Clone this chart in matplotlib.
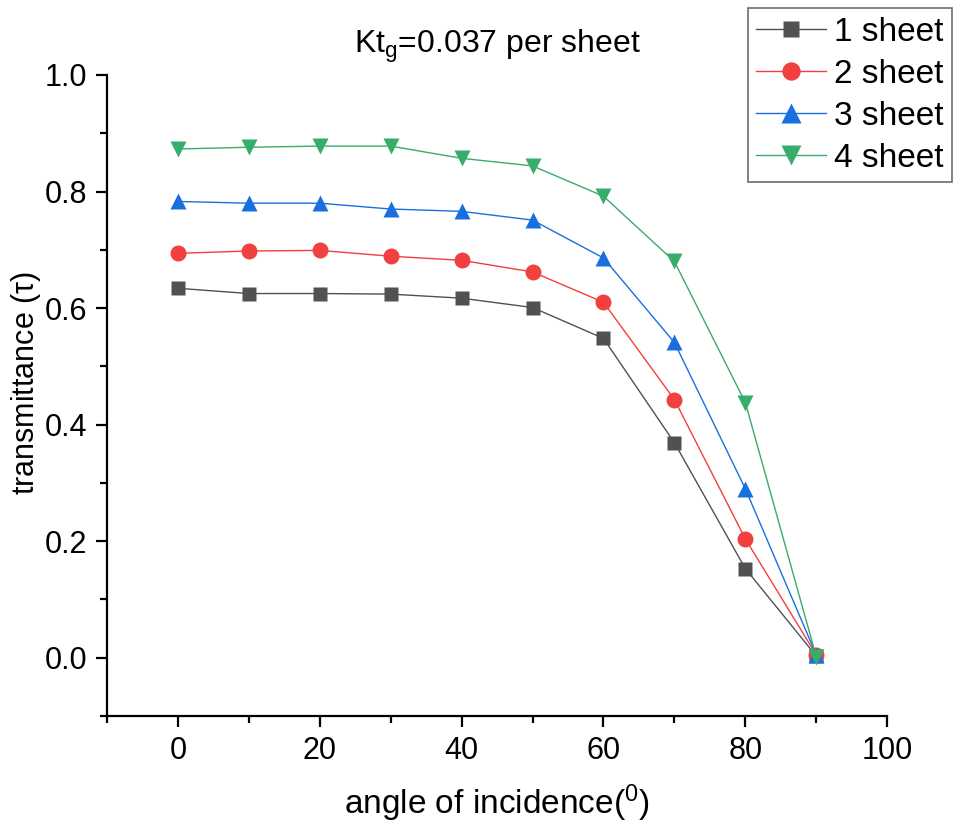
import matplotlib
matplotlib.use('Agg')
import matplotlib.pyplot as plt
from matplotlib.ticker import MultipleLocator

plt.rcParams['font.family'] = ['Liberation Sans', 'DejaVu Sans']
plt.rcParams['mathtext.default'] = 'regular'

angle = [0, 10, 20, 30, 40, 50, 60, 70, 80, 90]
tau_1 = [0.634, 0.625, 0.625, 0.624, 0.617, 0.601, 0.548, 0.369, 0.153, 0.003]
tau_2 = [0.694, 0.698, 0.699, 0.689, 0.682, 0.662, 0.610, 0.443, 0.204, 0.005]
tau_3 = [0.783, 0.780, 0.780, 0.770, 0.766, 0.751, 0.686, 0.541, 0.290, 0.005]
tau_4 = [0.873, 0.876, 0.878, 0.878, 0.857, 0.844, 0.792, 0.680, 0.438, 0.002]
labels = ["1 sheet", "2 sheet", "3 sheet", "4 sheet"]

colors = ["#515151", "#F14040", "#1A6FDF", "#37AD6B"]
markers = ['s', 'o', '^', 'v']
msizes = [10.5, 11.5, 12, 12]

fig = plt.figure(figsize=(9.55, 8.24), dpi=100)
ax = fig.add_axes([0.112, 0.131, 0.817, 0.778])

for y, l, c, m, s in zip([tau_1, tau_2, tau_3, tau_4], labels, colors, markers, msizes):
	ax.plot(angle, y, marker=m, ms=s, c=c, lw=1.0, label=l, mec='none')

ax.set_xlim(-10, 100)
ax.set_ylim(-0.1, 1.0)
ax.xaxis.set_major_locator(MultipleLocator(20))
ax.xaxis.set_minor_locator(MultipleLocator(10))
ax.yaxis.set_major_locator(MultipleLocator(0.2))
ax.yaxis.set_minor_locator(MultipleLocator(0.1))
ax.yaxis.set_major_formatter(matplotlib.ticker.FormatStrFormatter('%.1f'))
ax.set_xticks([0, 20, 40, 60, 80, 100])

for sp in ['top', 'right']:
	ax.spines[sp].set_visible(False)
for sp in ['left', 'bottom']:
	ax.spines[sp].set_linewidth(1.6)
ax.tick_params(which='major', direction='out', length=8, width=1.6, labelsize=22, pad=6)
ax.tick_params(which='minor', direction='out', length=5, width=1.6)

ax.set_xlabel("angle of incidence($^0$)", fontsize=24, labelpad=12)
ax.set_ylabel(r"transmittance ($\tau$)", fontsize=22)
ax.yaxis.set_label_coords(-0.082, 0.52)
ax.set_title("Kt$_g$=0.037 per sheet", fontsize=23, pad=16)

leg = fig.legend(loc='upper right', bbox_to_anchor=(0.997, 0.99), fontsize=24,
	handlelength=2.1, fancybox=False, borderpad=0.25, labelspacing=0.33,
	handletextpad=0.25, borderaxespad=0, markerscale=1.15)
leg.get_frame().set_edgecolor('#555555')
leg.get_frame().set_linewidth(1.3)

fig.savefig('out.png', dpi=100)
